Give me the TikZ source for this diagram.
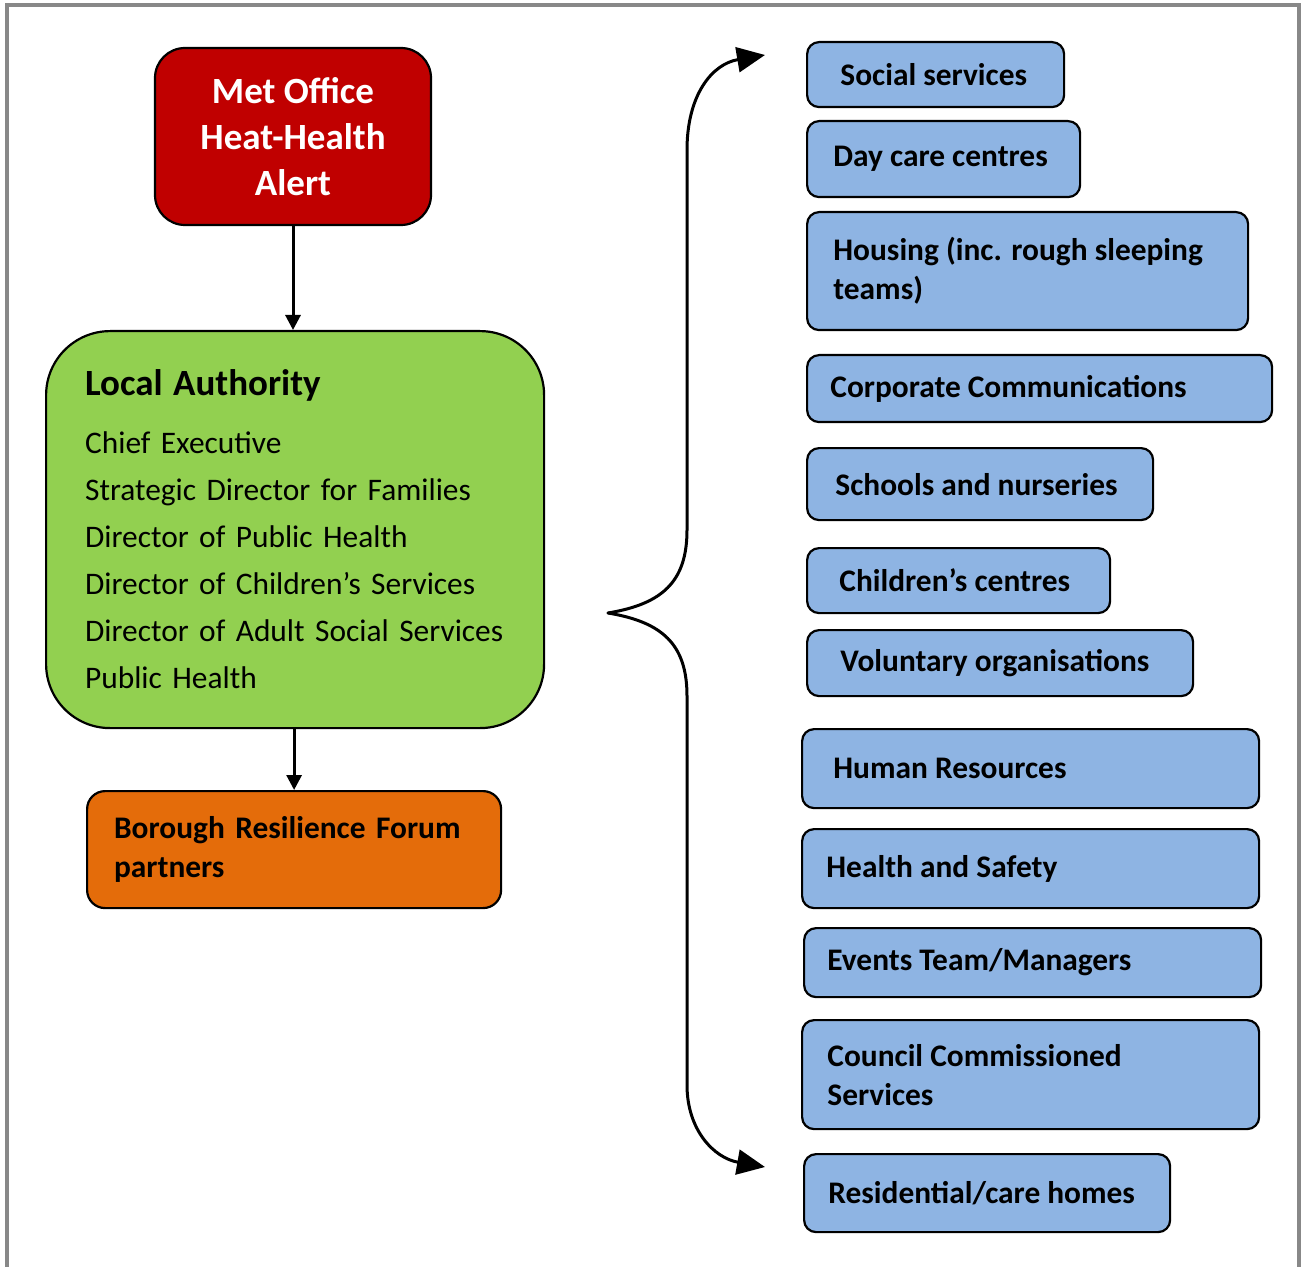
\documentclass[tikz,border=0pt]{standalone}
\usepackage{fontspec}
\setmainfont{Carlito}
\usetikzlibrary{arrows.meta}
\definecolor{alertred}{HTML}{C00000}
\definecolor{lagreen}{HTML}{92D050}
\definecolor{brforange}{HTML}{E46C0A}
\definecolor{serviceblue}{HTML}{8EB4E3}
\definecolor{framegray}{HTML}{888888}
\tikzset{
  box/.style = {draw = black, line width = 1.1pt, inner ysep = 0pt},
  service/.style = {box, fill = serviceblue, rounded corners = 6pt, anchor = north west},
  servicetext/.style = {anchor = west, inner sep = 0pt, align = left,
    font = \bfseries\fontsize{15.7}{19.5}\selectfont},
  link/.style = {line width = 1.5pt, -{Triangle[length=7.5pt,width=7.5pt]}},
  fan/.style = {line width = 1.5pt, line cap = round, -{Triangle[length=14pt,width=12.5pt]}}
}
\begin{document}
\begin{tikzpicture}[x = 0.5pt, y = -0.5pt]
	\useasboundingbox (0,0) rectangle (1306,1267);
	\draw[framegray, line width = 2pt] (7,1280) -- (7,5) -- (1299,5) -- (1299,1280);
	% left column
	\node[box, fill = alertred, text = white, rounded corners = 15pt, minimum width = 138pt,
		minimum height = 88.5pt, align = center, font = \bfseries\fontsize{18.5}{23}\selectfont]
		(met) at (293,136.5) {Met Office\\Heat-Health\\Alert};
	\node[box, fill = lagreen, rounded corners = 32pt, anchor = north west, minimum height = 198.5pt,
		text width = 210pt, inner xsep = 19.5pt, align = left, font = \fontsize{15.7}{23.5}\selectfont]
		(la) at (45,330) {{\bfseries\fontsize{18.5}{22}\selectfont Local Authority}\\[5.5pt]
		Chief Executive\\
		Strategic Director for Families\\
		Director of Public Health\\
		Director of Children’s Services\\
		Director of Adult Social Services\\
		Public Health};
	\node[box, fill = brforange, rounded corners = 9pt, anchor = north west, minimum height = 58.5pt,
		text width = 180pt, inner xsep = 13.5pt, align = left, font = \bfseries\fontsize{15.7}{19.5}\selectfont]
		(brf) at (86,790) {Borough Resilience Forum\\partners};
	\draw[link] (met.south) -- (la.north -| met.south);
	\draw[link] (la.south -| brf.north) -- (brf.north);
	% right column
	\foreach \i/\x/\y/\w/\h/\ins/\txt in {
		1/806/41/257/65/34/{Social services},
		2/806/120/273/76/27/{Day care centres},
		3/806/211/441/118/27/{Housing (inc. rough sleeping\\teams)},
		4/806/354/465/67/24/{Corporate Communications},
		5/806/447/346/72/29/{Schools and nurseries},
		6/806/547/303/65/33/{Children’s centres},
		7/806/629/386/66/34/{Voluntary organisations},
		8/801/728/457/79/32/{Human Resources},
		9/801/828/457/79/25/{Health and Safety},
		10/803/927/457/69/24/{Events Team/Managers},
		11/801/1019/457/109/26/{Council Commissioned\\Services},
		12/803/1153/366/78/25/{Residential/care homes}}
	{
		\pgfmathsetmacro\ww{\w*0.5}
		\pgfmathsetmacro\hh{\h*0.5}
		\pgfmathsetmacro\ls{\ins*0.5}
		\node[service, minimum width = \ww pt, minimum height = \hh pt] (s\i) at (\x,\y) {};
		\node[servicetext] (t\i) at ([xshift = \ls pt] s\i.west) {\txt};
	}
	% brace
	\coordinate (tip) at (608,613);
	\coordinate (ftop) at (765,55);
	\coordinate (fbot) at (765,1167);
	\draw[fan] (tip) .. controls (662,604) and (687,582) .. (687,530) -- (687,150)
		.. controls (687,95) and (712,64) .. (ftop);
	\draw[fan] (tip) .. controls (662,622) and (687,644) .. (687,696) -- (687,1085)
		.. controls (687,1130) and (714,1158) .. (fbot);
\end{tikzpicture}
\end{document}
